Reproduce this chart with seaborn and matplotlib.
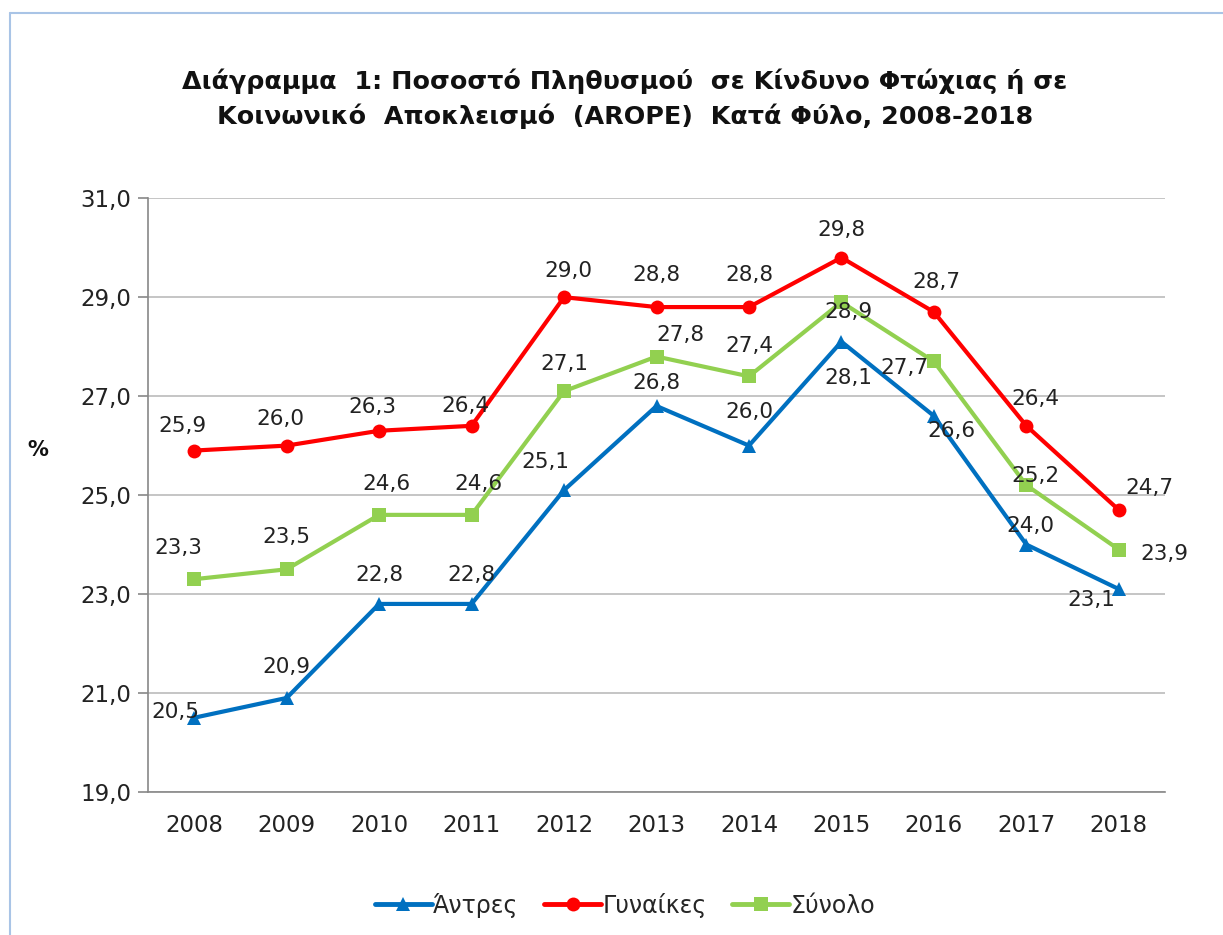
import matplotlib
matplotlib.use("Agg")
import matplotlib.pyplot as plt
import seaborn as sns
import pandas as pd
from matplotlib.lines import Line2D

# Chart data
years = ['2008', '2009', '2010', '2011', '2012', '2013', '2014', '2015', '2016', '2017', '2018']
men = [20.5, 20.9, 22.8, 22.8, 25.1, 26.8, 26.0, 28.1, 26.6, 24.0, 23.1]
women = [25.9, 26.0, 26.3, 26.4, 29.0, 28.8, 28.8, 29.8, 28.7, 26.4, 24.7]
total = [23.3, 23.5, 24.6, 24.6, 27.1, 27.8, 27.4, 28.9, 27.7, 25.2, 23.9]
series_names = ['Άντρες', 'Γυναίκες', 'Σύνολο']

sns.set_theme(style='white')
plt.rcParams['font.family'] = ['DejaVu Sans']

colors = {'Άντρες': '#0070C0', 'Γυναίκες': '#FF0000', 'Σύνολο': '#92D050'}
markers = {'Άντρες': '^', 'Γυναίκες': 'o', 'Σύνολο': 's'}

pos = list(range(len(years)))
df = pd.DataFrame({
    'pos': pos * 3,
    'value': men + women + total,
    'series': [series_names[0]] * len(years) + [series_names[1]] * len(years) + [series_names[2]] * len(years),
})

fig = plt.figure(figsize=(12.23, 9.35), dpi=100)
ax = fig.add_axes([0.121, 0.153, 0.8316, 0.635])

for name in series_names:
    sub = df[df['series'] == name]
    sns.lineplot(data=sub, x='pos', y='value', ax=ax, color=colors[name],
                 marker=markers[name], markersize=10, linewidth=3,
                 markeredgewidth=0, legend=False)

ax.set_xlim(-0.5, len(years) - 0.5)
ax.set_ylim(19, 31)
yt = [19, 21, 23, 25, 27, 29, 31]
ax.set_yticks(yt)
ax.set_yticklabels([f'{v:.1f}'.replace('.', ',') for v in yt])
ax.set_xticks(pos)
ax.set_xticklabels(years)
ax.set_xticks([p - 0.5 for p in pos] + [len(years) - 0.5], minor=True)
ax.tick_params(axis='x', which='major', length=0, pad=16, labelsize=16.5, colors='#222222')
ax.tick_params(axis='x', which='minor', length=7, width=1.2, color='#888888', direction='out')
ax.tick_params(axis='y', length=7, width=1.2, color='#888888', direction='out', left=True,
               labelsize=16.5, labelcolor='#222222', pad=5)
ax.grid(axis='y', color='#BBBBBB', linewidth=1.2)
ax.set_axisbelow(True)
for s in ['top', 'right']:
    ax.spines[s].set_visible(False)
for s in ['left', 'bottom']:
    ax.spines[s].set_color('#888888')
    ax.spines[s].set_linewidth(1.2)
ax.set_xlabel('')
ax.set_ylabel('')
fig.text(38 / 1223, 1 - 450 / 935, '%', ha='center', va='center', fontsize=15,
         fontweight='bold', color='#111111')

# label offsets in pixels (dx right, dy up)
men_off = [(-19, 6), (0, 31), (0, 29), (0, 29), (-19, 28), (0, 23), (0, 34), (7, -36), (18, -15), (4, 19), (-27, -11)]
women_off = [(-12, 25), (-6, 27), (-7, 24), (-6, 20), (4, 26), (0, 32), (0, 32), (0, 28), (3, 30), (9, 27), (31, 22)]
total_off = [(-16, 31), (0, 32), (7, 31), (7, 31), (0, 27), (24, 22), (0, 30), (7, -10), (-29, -7), (9, 9), (46, -4)]
for vals, offs in [(men, men_off), (women, women_off), (total, total_off)]:
    for p, v, (dx, dy) in zip(pos, vals, offs):
        ax.annotate(f'{v:.1f}'.replace('.', ','), (p, v), xytext=(dx * 0.72, dy * 0.72),
                    textcoords='offset points', ha='center', va='center',
                    fontsize=15.5, color='#222222')

fig.text(0.511, 0.8947, 'Διάγραμμα  1: Ποσοστό Πληθυσμού  σε Κίνδυνο Φτώχιας ή σε\n'
         'Κοινωνικό  Αποκλεισμό  (AROPE)  Κατά Φύλο, 2008-2018',
         ha='center', va='center', fontsize=18.3, fontweight='bold', linespacing=1.45,
         color='#111111')

handles = [Line2D([0], [0], color=colors[n], marker=markers[n], markersize=10,
                  linewidth=3.5, markeredgewidth=0) for n in series_names]
fig.legend(handles, series_names, loc='center', bbox_to_anchor=(0.511, 0.032), ncol=3,
           frameon=False, fontsize=17, handlelength=2.4, columnspacing=1.1, handletextpad=0.05)

# partial chart-area border (left and top visible in the reference)
fig.add_artist(Line2D([10 / 1223, 10 / 1223], [0, 1 - 13 / 935], color='#A9C4E6', linewidth=1.5,
                      transform=fig.transFigure))
fig.add_artist(Line2D([10 / 1223, 1], [1 - 13 / 935, 1 - 13 / 935], color='#A9C4E6', linewidth=1.5,
                      transform=fig.transFigure))

fig.savefig('out.png', dpi=100, facecolor='white')
